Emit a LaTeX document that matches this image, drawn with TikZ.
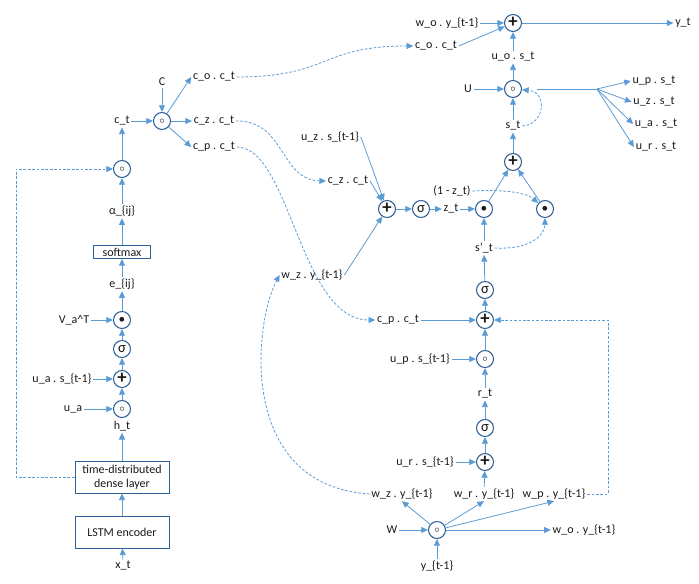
\documentclass[tikz,border=0pt]{standalone}
\usepackage{fontspec}
\setmainfont{Carlito}
\usetikzlibrary{arrows.meta}
\definecolor{conn}{HTML}{5B9BD5}
\definecolor{ring}{HTML}{2E6095}
\definecolor{txt}{HTML}{1A1A1A}
\tikzset{
 lbl/.style={inner sep=1.2pt, text=txt, font=\fontsize{9}{10}\selectfont},
 opn/.style={circle, draw=ring, line width=0.8pt, fill=white, minimum size=12.75pt, inner sep=0pt, text=txt},
 boxn/.style={draw=ring, line width=0.7pt, fill=white, text=txt, font=\fontsize{9}{10.5}\selectfont, align=center, inner sep=0pt},
 arr/.style={draw=conn, line width=0.6pt, -{Triangle[length=5pt,width=4.5pt]}},
 dsh/.style={draw=conn, line width=0.6pt, dash pattern=on 2pt off 1.3pt},
 dsharr/.style={dsh, -{Triangle[length=5pt,width=4.5pt]}},
}
\newcommand{\opc}{{\fontsize{7}{7}\selectfont$\circ$}}
\newcommand{\opp}{{\fontsize{14}{14}\selectfont\bfseries\raisebox{0.4pt}{+}}}
\newcommand{\ops}{{\fontsize{11}{11}\selectfont σ}}
\newcommand{\opd}{{\fontsize{10}{10}\selectfont •}}
\begin{document}
\begin{tikzpicture}[x=0.75pt,y=-0.75pt]
\useasboundingbox (0,0) rectangle (699,584);
% ---------- left column ----------
\node[lbl] (xt) at (123,566) {x\_t};
\node[boxn, minimum width=70.5pt, minimum height=24pt] (lstm) at (122,532) {LSTM encoder};
\node[boxn, minimum width=70.5pt, minimum height=24pt] (dense) at (122,477) {time-distributed\\dense layer};
\node[lbl] (ht) at (122,426) {h\_t};
\node[opn] (oa) at (122,409) {\opc};
\node[lbl] (ua) at (73,409) {u\_a};
\node[opn] (pa) at (122,379) {\opp};
\node[lbl] (uas) at (62,379) {u\_a . s\_\{t-1\}};
\node[opn] (sa) at (122,349) {\ops};
\node[opn] (da) at (122,320) {\opd};
\node[lbl] (vat) at (74,320) {V\_a\textasciicircum T};
\node[lbl] (eij) at (122,284) {e\_\{ij\}};
\node[boxn, minimum width=42.75pt, minimum height=9.75pt] (soft) at (122,252) {softmax};
\node[lbl] (aij) at (122,211) {α\_\{ij\}};
\node[opn] (oc) at (122,169) {\opc};
\node[lbl] (ct) at (122,121) {c\_t};
\node[opn] (oC) at (162,121) {\opc};
\node[lbl] (C) at (162,82) {C};
\node[lbl] (col) at (214,77) {c\_o . c\_t};
\node[lbl] (czl) at (214,121) {c\_z . c\_t};
\node[lbl] (cpl) at (214,147) {c\_p . c\_t};
\coordinate (fbL) at (16,477);
% ---------- top right ----------
\node[opn] (py) at (513,23) {\opp};
\node[lbl] (woy) at (447,23) {w\_o . y\_\{t-1\}};
\node[lbl] (yt) at (683,23) {y\_t};
\node[lbl] (cor) at (436,46) {c\_o . c\_t};
\node[lbl] (uos) at (513,57) {u\_o . s\_t};
\node[opn] (oU) at (513,89) {\opc};
\node[lbl] (U) at (468,89) {U};
\node[lbl] (st) at (513,126) {s\_t};
\node[opn] (ps) at (513,162) {\opp};
\coordinate (fan) at (597,89);
\node[lbl] (ups) at (654,81) {u\_p . s\_t};
\node[lbl] (uzs) at (654,102) {u\_z . s\_t};
\node[lbl] (uast) at (656,124) {u\_a . s\_t};
\node[lbl] (urs) at (656,147) {u\_r . s\_t};
% ---------- middle ----------
\node[opn] (pz) at (387,209) {\opp};
\node[opn] (sz) at (421,209) {\ops};
\node[lbl] (zt) at (451,209) {z\_t};
\node[opn] (d1) at (484,209) {\opd};
\node[opn] (d2) at (545,209) {\opd};
\node[lbl] (omz) at (452,191) {(1 - z\_t)};
\node[lbl] (spt) at (484,248) {s’\_t};
\node[lbl] (uzs1) at (330,137) {u\_z . s\_\{t-1\}};
\node[lbl] (czm) at (348,181) {c\_z . c\_t};
\node[lbl] (wzu) at (312,275) {w\_z . y\_\{t-1\}};
\node[lbl] (cpm) at (398,320) {c\_p . c\_t};
\node[opn] (pp) at (485,320) {\opp};
\node[opn] (sp) at (485,290) {\ops};
\node[opn] (orr) at (485,359) {\opc};
\node[lbl] (ups1) at (420,359) {u\_p . s\_\{t-1\}};
\node[lbl] (rt) at (485,394) {r\_t};
\node[opn] (sr) at (485,428) {\ops};
\node[opn] (pr) at (485,462) {\opp};
\node[lbl] (urs1) at (425,462) {u\_r . s\_\{t-1\}};
\node[lbl] (wzl) at (402,494) {w\_z . y\_\{t-1\}};
\node[lbl] (wr) at (484,494) {w\_r . y\_\{t-1\}};
\node[lbl] (wp) at (554,494) {w\_p . y\_\{t-1\}};
\node[opn] (oW) at (437,530) {\opc};
\node[lbl] (W) at (392,530) {W};
\node[lbl] (wo) at (584,530) {w\_o . y\_\{t-1\}};
\node[lbl] (yt1) at (437,566) {y\_\{t-1\}};
\coordinate (fbR) at (608,494);
% ---------- connectors left ----------
\draw[arr] (xt) -- (lstm);
\draw[arr] (lstm) -- (dense);
\draw[arr] (dense) -- (ht);
\draw[arr] (ua) -- (oa);
\draw[arr] (oa) -- (pa);
\draw[arr] (uas) -- (pa);
\draw[arr] (pa) -- (sa);
\draw[arr] (sa) -- (da);
\draw[arr] (vat) -- (da);
\draw[arr] (da) -- (eij);
\draw[arr] (eij) -- (soft);
\draw[arr] (soft) -- (aij);
\draw[arr] (aij) -- (oc);
\draw[arr] (oc) -- (ct);
\draw[arr] (ct) -- (oC);
\draw[arr] (C) -- (oC);
\draw[arr] (oC) -- (col.west);
\draw[arr] (oC) -- (czl.west);
\draw[arr] (oC) -- (cpl.west);
\draw[dsharr] (dense.west) -- (fbL) |- (oc);
\draw[dsharr] (col.east) .. controls (330,77) and (320,46) .. (cor.west);
\draw[dsharr] (czl.east) .. controls (285,120) and (280,180) .. (czm.west);
\draw[dsharr] (cpl.east) .. controls (290,147) and (300,320) .. (cpm.west);
% ---------- connectors top right ----------
\draw[arr] (woy) -- (py);
\draw[arr] (cor.east) -- (py);
\draw[arr] (py) -- (yt);
\draw[arr] (uos) -- (py);
\draw[arr] (oU) -- (uos);
\draw[arr] (U) -- (oU);
\draw[arr] (st) -- (oU);
\draw[dsharr] (st.east) .. controls (545,125) and (548,92) .. (oU);
\draw[arr] (ps) -- (st);
\draw[draw=conn, line width=0.6pt, shorten <=11pt] (oU) -- (fan);
\draw[arr] (fan) -- (ups.west);
\draw[arr] (fan) -- (uzs.west);
\draw[arr] (fan) -- (uast.west);
\draw[arr] (fan) -- (urs.west);
% ---------- connectors middle ----------
\draw[arr] (d1) -- (ps);
\draw[arr] (d2) -- (ps);
\draw[arr] (zt) -- (d1);
\draw[arr] (sz) -- (zt);
\draw[arr] (pz) -- (sz);
\draw[arr] (uzs1.east) -- (pz);
\draw[arr] (czm.east) -- (pz);
\draw[arr] (wzu.east) -- (pz);
\draw[dsharr] (omz.east) .. controls (510,189) and (528,194) .. (d2);
\draw[dsharr] (spt.east) .. controls (530,250) and (545,235) .. (d2);
\draw[arr] (spt) -- (d1);
\draw[arr] (sp) -- (spt);
\draw[arr] (pp) -- (sp);
\draw[arr] (cpm) -- (pp);
\draw[arr] (orr) -- (pp);
\draw[arr] (ups1) -- (orr);
\draw[arr] (rt) -- (orr);
\draw[arr] (sr) -- (rt);
\draw[arr] (pr) -- (sr);
\draw[arr] (urs1) -- (pr);
\draw[arr] (wr) -- (pr);
\draw[arr] (oW) -- (wzl.south);
\draw[arr] (oW) -- (wr.south);
\draw[arr] (oW) -- (wp.south);
\draw[arr] (oW) -- (wo.west);
\draw[arr] (W) -- (oW);
\draw[arr] (yt1) -- (oW);
\draw[dsharr] (wp.east) -- (fbR) |- (pp);
\draw[dsharr] (wzl.west) .. controls (235,485) and (255,320) .. (wzu.west);
\end{tikzpicture}
\end{document}
